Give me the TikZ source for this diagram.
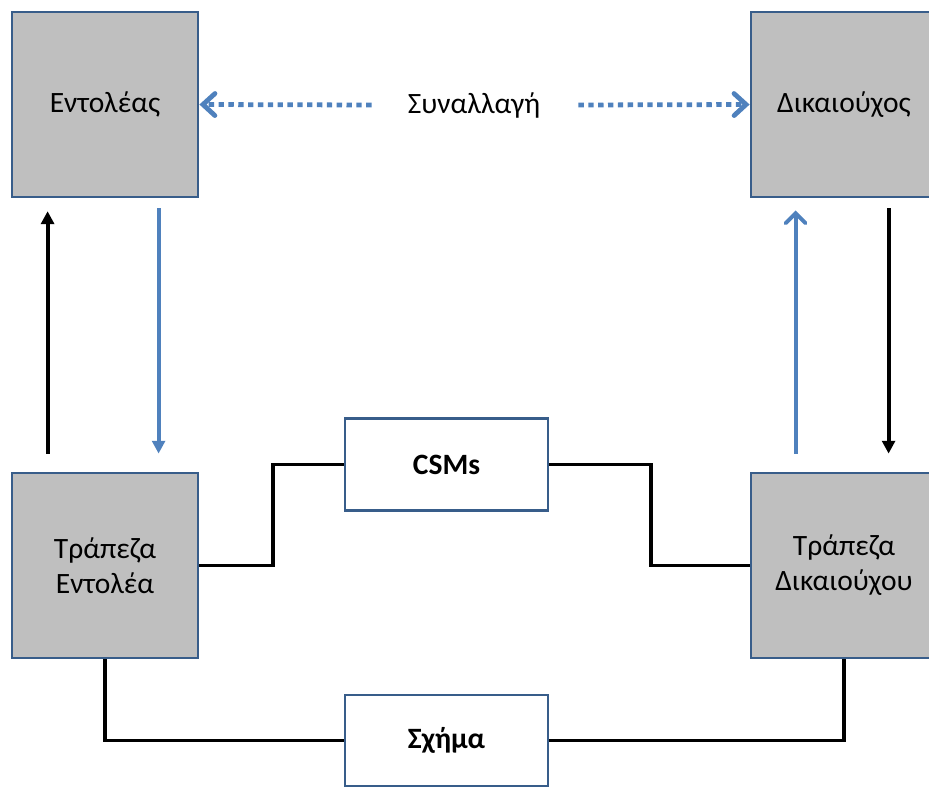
\documentclass[tikz,border=0pt]{standalone}
\usepackage{fontspec}
\setmainfont{Carlito}
\definecolor{boxblue}{RGB}{56, 93, 138}
\definecolor{flowblue}{RGB}{79, 129, 189}
\definecolor{boxgray}{RGB}{191, 191, 191}
\usetikzlibrary{arrows.meta, positioning, calc}

\begin{document}
\begin{tikzpicture}[
  party/.style={draw=boxblue, fill=boxgray, line width=2pt, minimum width=4.65cm, minimum height=4.625cm, align=center, font=\fontsize{21}{25}\selectfont, inner sep=0pt},
  infra/.style={draw=boxblue, fill=white, line width=2pt, minimum width=5.075cm, minimum height=2.3cm, font=\fontsize{21}{25}\selectfont\bfseries, inner sep=0pt},
  link/.style={draw=black, line width=2.8pt},
  blackflow/.style={draw=black, line width=2.8pt, -{Triangle[length=0.32cm, width=0.32cm]}},
  blueflow/.style={draw=flowblue, line width=2.8pt, -{Triangle[length=0.32cm, width=0.32cm]}},
  bluebarb/.style={draw=flowblue, line width=2.8pt, -{Straight Barb[length=0.25cm, width=0.5cm, line cap=round]}},
  dotflow/.style={draw=flowblue, line width=3.4pt, dash pattern=on 3.8pt off 3.2pt, -{Straight Barb[length=0.3cm, width=0.55cm, line cap=round]}}
]
  \clip (0,0) rectangle (23.225,-19.675);

  % Parties and their banks
  \node[party] (ent) at (2.625, -2.6125) {Εντολέας};
  \node[party] (dik) at (21.1, -2.6125) {Δικαιούχος};
  \node[party] (tent) at (2.625, -14.1375) {Τράπεζα\\Εντολέα};
  \node[party] (tdik) at (21.1, -14.1375) {Τράπεζα\\Δικαιούχου};

  % Clearing and scheme
  \node[infra] (csms) at (11.1625, -11.6125) {CSMs};
  \node[infra, minimum height=2.275cm] (sxima) at (11.1625, -18.5125) {Σχήμα};

  % Transaction
  \node[font=\fontsize{21}{25}\selectfont, inner sep=0pt] (syn) at (11.85, -2.625) {Συναλλαγή};
  \draw[dotflow] ([xshift=-0.9cm]syn.west) -- (ent.east);
  \draw[dotflow] ([xshift=0.95cm]syn.east) -- (dik.west);

  % Vertical flows
  \draw[blackflow, shorten <=0.45cm, shorten >=0.32cm] ([xshift=0.925cm]tent.north west) -- ([xshift=0.925cm]ent.south west);
  \draw[blueflow, shorten <=0.25cm, shorten >=0.45cm] ([xshift=3.7cm]ent.south west) -- ([xshift=3.7cm]tent.north west);
  \draw[bluebarb, shorten <=0.45cm, shorten >=0.3cm] ([xshift=1.15cm]tdik.north west) -- ([xshift=1.15cm]dik.south west);
  \draw[blackflow, shorten <=0.25cm, shorten >=0.45cm] ([xshift=3.475cm]dik.south west) -- ([xshift=3.475cm]tdik.north west);

  % Links between banks
  \draw[link] (tent.east) -- ++(1.85,0) |- (csms.west);
  \draw[link] (csms.east) -- ++(2.55,0) |- (tdik.west);
  \draw[link] (tent.south) |- (sxima.west);
  \draw[link] (sxima.east) -| (tdik.south);
\end{tikzpicture}
\end{document}
